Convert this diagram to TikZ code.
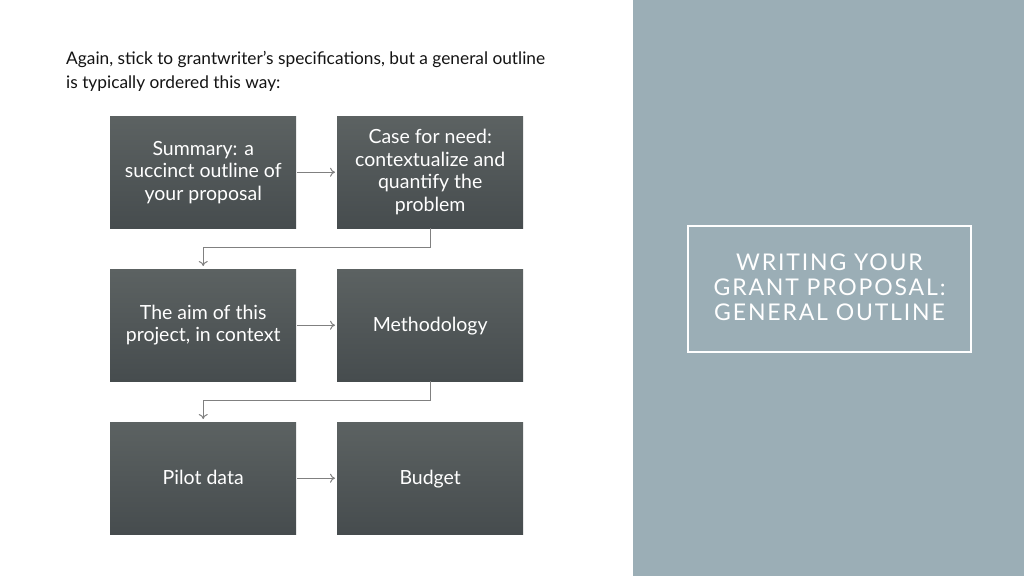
\documentclass[tikz,border=0pt]{standalone}
\usepackage{fontspec}
\setmainfont{Lato}
\usetikzlibrary{arrows.meta,positioning}
\definecolor{panel}{RGB}{155,174,182}
\definecolor{boxtop}{RGB}{92,98,98}
\definecolor{boxbot}{RGB}{70,76,78}
\definecolor{linec}{RGB}{128,128,128}
\definecolor{introc}{RGB}{20,20,20}
\tikzset{
  flowbox/.style={minimum width=186pt,minimum height=112pt,inner sep=0pt,
    top color=boxtop,bottom color=boxbot,text=white,align=center,
    font=\fontsize{19.5}{22.5}\selectfont,anchor=north west},
  conn/.style={draw=linec,line width=1pt,-{To[length=5pt,width=9pt]}},
}
\newcommand{\oneline}[1]{\raisebox{-2pt}{#1}\strut}
\begin{document}
\begin{tikzpicture}[x=1pt,y=-1pt]
\useasboundingbox (0,0) rectangle (1024,576);
\fill[white] (0,0) rectangle (633,576);
\fill[panel] (633,0) rectangle (1024,576);
\node[draw=white,line width=2pt,minimum width=283pt,minimum height=126pt,anchor=north west,inner sep=0pt] (title) at (687,225) {};
\node[text=white,align=center,font=\fontsize{23}{25}\selectfont\addfontfeatures{LetterSpace=8}] (titletext) at ([yshift=2pt]title.center) {WRITING YOUR\\GRANT PROPOSAL:\\GENERAL OUTLINE};
\node[anchor=north west,align=left,text=introc,inner sep=0pt,font=\fontsize{17.3}{24}\selectfont] (intro) at (66,51) {Again, stick to grantwriter’s specifications, but a general outline\\is typically ordered this way:};
\node[flowbox] (b1) at (110,116) {Summary: a\\succinct outline of\\your proposal};
\node[flowbox] (b2) at (337,116) {Case for need:\\contextualize and\\quantify the\\problem};
\node[flowbox] (b3) at (110,269) {The aim of this\\project, in context};
\node[flowbox] (b4) at (337,269) {\oneline{Methodology}};
\node[flowbox] (b5) at (110,422) {\oneline{Pilot data}};
\node[flowbox] (b6) at (337,422) {\oneline{Budget}};
\draw[conn] (b1.east) ++(1,0) -- ([xshift=-2pt]b2.west);
\draw[conn] (b3.east) ++(1,0) -- ([xshift=-2pt]b4.west);
\draw[conn] (b5.east) ++(1,0) -- ([xshift=-2pt]b6.west);
\draw[conn] (b2.south) -- ++(0,19) -| ([yshift=3pt]b3.north);
\draw[conn] (b4.south) -- ++(0,19) -| ([yshift=3pt]b5.north);
\end{tikzpicture}
\end{document}
